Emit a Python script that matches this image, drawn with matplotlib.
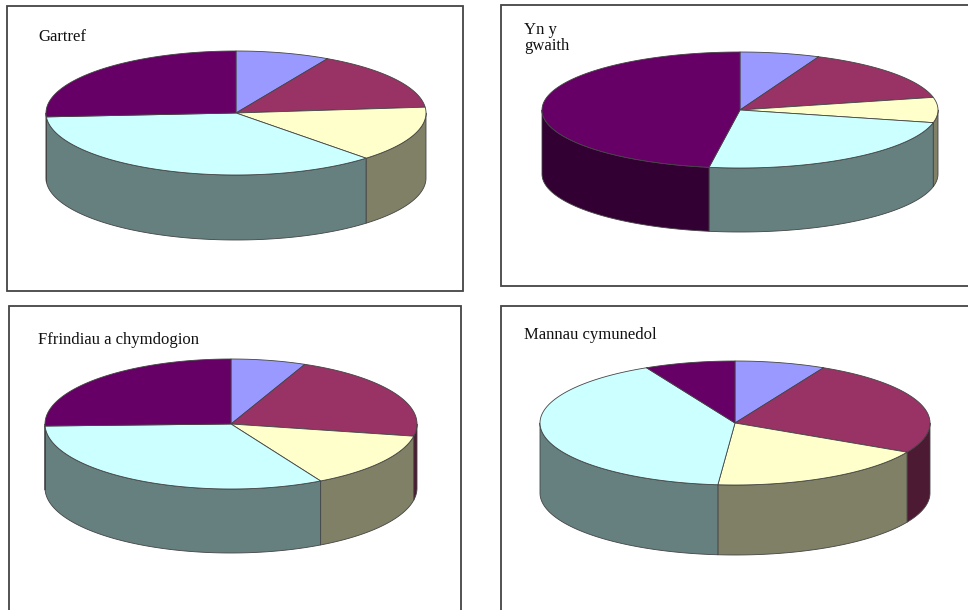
import numpy as np
import matplotlib
matplotlib.use("Agg")
import matplotlib.pyplot as plt
from matplotlib.patches import Polygon, Rectangle

# Data: shares (%) clockwise from 12 o'clock
segments = ["blue", "red", "yellow", "cyan", "purple"]
gartref = [8.0, 15.5, 14.5, 36.0, 26.0]
gwaith = [6.5, 15.0, 7.0, 24.0, 47.5]
ffrindiau = [6.5, 21.5, 14.0, 32.5, 25.5]
mannau = [7.5, 25.3, 18.6, 41.1, 7.5]
titles = ["Gartref", "Yn y\ngwaith", "Ffrindiau a chymdogion", "Mannau cymunedol"]

top_colors = ["#9999ff", "#993366", "#ffffcc", "#ccffff", "#660066"]
side_colors = ["#4d4d80", "#4d1a33", "#808066", "#668080", "#330033"]
EDGE = "#444444"

W, H = 968, 610
fig = plt.figure(figsize=(W / 100, H / 100), dpi=100, facecolor="white")
ax = fig.add_axes([0, 0, 1, 1])
ax.set_xlim(0, W)
ax.set_ylim(H, 0)
ax.axis("off")

plt.rcParams["font.family"] = ["Liberation Serif", "DejaVu Serif"]


def pie3d(values, cx, cy, rx, ry, depth):
    v = np.asarray(values, float)
    edges = np.r_[0, np.cumsum(v) / v.sum()] * 2 * np.pi
    px = lambda t: cx + rx * np.sin(t)
    py = lambda t: cy - ry * np.cos(t)
    # Outer wall: only the part of the rim facing the viewer
    for a, b, c in zip(edges[:-1], edges[1:], side_colors):
        lo, hi = max(a, np.pi / 2), min(b, 3 * np.pi / 2)
        if hi <= lo:
            continue
        t = np.linspace(lo, hi, 120)
        xy = np.r_[np.c_[px(t), py(t)], np.c_[px(t[::-1]), py(t[::-1]) + depth]]
        ax.add_patch(Polygon(xy, closed=True, fc=c, ec=EDGE, lw=0.6, joinstyle="round"))
    # Top face
    for a, b, c in zip(edges[:-1], edges[1:], top_colors):
        t = np.linspace(a, b, 200)
        xy = np.r_[[[cx, cy]], np.c_[px(t), py(t)]]
        ax.add_patch(Polygon(xy, closed=True, fc=c, ec=EDGE, lw=0.6, joinstyle="round"))


# Frames (x0, y0, x1, y1), pixels; some run off the image edge
frames = [(7, 6, 463, 291), (501, 5, 975, 286), (9, 306, 461, 620), (501, 306, 975, 620)]
for x0, y0, x1, y1 in frames:
    ax.add_patch(Rectangle((x0, y0), x1 - x0, y1 - y0, fc="white", ec="#444444", lw=1.3))

pie3d(gartref, 236, 113, 190, 62, 65)
pie3d(gwaith, 740, 110, 198, 58, 64)
pie3d(ffrindiau, 231, 424, 186, 65, 64)
pie3d(mannau, 735, 423, 195, 62, 70)

FS = 12
ax.text(38, 37, titles[0], fontsize=FS, va="center", ha="left", color="#111111")
ax.text(524, 38, titles[1], fontsize=FS, va="center", ha="left", color="#111111", linespacing=1.05)
ax.text(38, 340, titles[2], fontsize=FS, va="center", ha="left", color="#111111")
ax.text(524, 335, titles[3], fontsize=FS, va="center", ha="left", color="#111111")

fig.savefig("out.png", dpi=100, facecolor="white")
